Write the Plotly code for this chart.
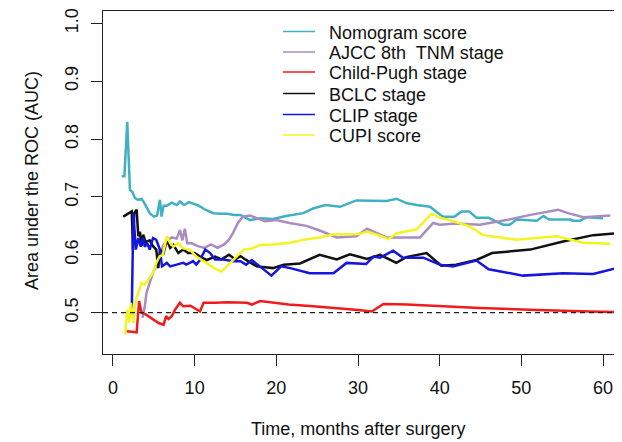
import plotly.graph_objects as go

# ---------------- data ----------------
nomo_x = [1.06, 1.4, 1.75, 2.08, 2.4, 2.7, 3.1, 3.5, 3.9, 4.5, 5.0, 5.4, 5.75, 5.95, 6.2, 6.6, 7.2, 7.8, 8.2, 8.7,
          9.3, 9.8, 10.5, 11.3, 12.3, 13.2, 14.0, 14.8, 15.6, 16.8, 18.0, 19.6, 21.2, 23.3, 24.5, 26.0, 27.8, 29.8,
          31.9, 33.5, 34.7, 36.0, 37.2, 38.8, 40.4, 41.8, 42.7, 43.6, 44.5, 46.0, 47.0, 47.8, 48.6, 49.4, 51.9,
          52.7, 53.4, 56.0, 56.3, 57.2, 58.0, 60.0]
nomo_y = [0.736, 0.736, 0.83, 0.712, 0.708, 0.698, 0.695, 0.697, 0.688, 0.672, 0.666, 0.668, 0.695, 0.666, 0.685,
          0.685, 0.69, 0.686, 0.692, 0.686, 0.691, 0.688, 0.685, 0.678, 0.672, 0.671, 0.671, 0.669, 0.669, 0.66,
          0.663, 0.662, 0.667, 0.672, 0.68, 0.686, 0.683, 0.694, 0.694, 0.693, 0.697, 0.689, 0.686, 0.683, 0.666,
          0.666, 0.675, 0.675, 0.664, 0.664, 0.657, 0.652, 0.652, 0.661, 0.659, 0.667, 0.661, 0.661, 0.659, 0.659,
          0.665, 0.663]

ajcc_x = [3.6, 3.9, 4.1, 4.5, 4.9, 5.3, 5.7, 6.2, 6.7, 7.2, 7.8, 8.2, 8.5, 8.8, 9.1, 9.6, 10.4, 11.2, 12.0, 12.8,
          13.6, 14.2, 14.7, 15.3, 15.9, 16.8, 17.6, 18.6, 20.0, 21.6, 23.7, 25.3, 27.4, 29.8, 31.1, 31.9, 33.5,
          35.9, 37.6, 39.2, 40.0, 42.0, 44.9, 48.2, 51.1, 54.5, 55.7, 57.6, 59.2, 60.9]
ajcc_y = [0.491, 0.511, 0.534, 0.551, 0.569, 0.58, 0.6, 0.617, 0.625, 0.63, 0.628, 0.643, 0.625, 0.645, 0.62,
          0.62, 0.615, 0.612, 0.618, 0.612, 0.618, 0.626, 0.638, 0.655, 0.666, 0.668, 0.663, 0.658, 0.66, 0.655,
          0.65, 0.642, 0.63, 0.632, 0.645, 0.64, 0.63, 0.63, 0.63, 0.655, 0.652, 0.654, 0.652, 0.66, 0.669, 0.678,
          0.672, 0.665, 0.666, 0.668]

cp_x = [1.67, 2.9, 3.2, 3.5, 4.0, 4.9, 5.6, 6.2, 6.5, 6.8, 7.2, 7.6, 8.2, 8.6, 9.5, 10.65, 11.1, 12.5, 14.0, 16.4,
        17.0, 18.0, 19.5, 21.5, 24.5, 27.7, 29.7, 31.7, 33.1, 36.0, 40.0, 42.0, 44.9, 51.0, 55.0, 58.3, 62.2]
cp_y = [0.468, 0.466, 0.52, 0.5, 0.497, 0.488, 0.482, 0.479, 0.494, 0.489, 0.494, 0.505, 0.517, 0.511, 0.512,
        0.502, 0.517, 0.517, 0.518, 0.517, 0.514, 0.52, 0.517, 0.514, 0.511, 0.508, 0.505, 0.502, 0.515, 0.514,
        0.511, 0.509, 0.508, 0.505, 0.503, 0.502, 0.501]

bclc_x = [1.26, 1.8, 2.3, 2.45, 2.6, 2.9, 3.1, 3.3, 3.5, 3.7, 4.0, 4.5, 4.9, 5.3, 5.55, 5.75, 6.2, 6.6, 7.0, 7.4,
          8.0, 8.6, 9.2, 10.0, 10.65, 11.5, 12.5, 13.3, 14.2, 15.0, 15.6, 16.2, 17.6, 19.6, 20.9, 22.9, 24.1,
          25.3, 27.4, 29.0, 31.1, 32.7, 34.7, 35.9, 38.4, 40.2, 42.0, 44.5, 46.4, 51.1, 55.1, 58.8, 62.2]
bclc_y = [0.666, 0.671, 0.675, 0.609, 0.672, 0.678, 0.632, 0.64, 0.615, 0.635, 0.622, 0.625, 0.615, 0.609, 0.577,
          0.609, 0.603, 0.626, 0.612, 0.617, 0.603, 0.609, 0.603, 0.603, 0.597, 0.591, 0.597, 0.592, 0.6, 0.592,
          0.598, 0.592, 0.58, 0.577, 0.583, 0.585, 0.593, 0.6, 0.592, 0.601, 0.593, 0.6, 0.586, 0.596, 0.603,
          0.581, 0.583, 0.591, 0.603, 0.609, 0.623, 0.634, 0.638]

clip_x = [2.0, 2.3, 2.5, 2.8, 3.1, 3.4, 3.7, 3.9, 4.2, 4.5, 4.9, 5.3, 5.75, 6.0, 6.6, 7.0, 7.8, 8.6, 9.0, 9.8,
          10.2, 10.65, 11.3, 11.9, 12.5, 13.5, 14.8, 15.6, 16.3, 17.0, 19.4, 20.6, 21.7, 24.1, 27.0, 28.6, 31.0,
          31.9, 32.7, 34.3, 35.5, 38.0, 40.0, 41.6, 44.5, 46.0, 50.2, 55.1, 58.8, 61.7]
clip_y = [0.5, 0.5, 0.672, 0.609, 0.629, 0.614, 0.629, 0.614, 0.62, 0.609, 0.629, 0.626, 0.609, 0.58, 0.586, 0.58,
          0.583, 0.586, 0.583, 0.589, 0.583, 0.591, 0.609, 0.603, 0.592, 0.592, 0.589, 0.589, 0.583, 0.591, 0.564,
          0.58, 0.577, 0.568, 0.568, 0.586, 0.584, 0.597, 0.595, 0.607, 0.595, 0.595, 0.583, 0.58, 0.59, 0.575,
          0.564, 0.568, 0.567, 0.577]

cupi_x = [1.47, 1.75, 2.0, 2.2, 2.5, 2.75, 3.1, 3.5, 3.9, 4.3, 4.6, 4.9, 5.3, 5.7, 6.1, 6.6, 7.0, 7.4, 8.0, 8.6,
          9.4, 10.2, 11.4, 12.6, 13.3, 14.6, 16.0, 17.0, 18.0, 19.6, 21.7, 23.7, 25.3, 26.9, 28.6, 30.2, 31.1,
          32.7, 33.7, 34.7, 37.2, 39.0, 40.0, 41.2, 43.7, 45.3, 49.4, 54.3, 57.6, 60.9]
cupi_y = [0.462, 0.505, 0.483, 0.517, 0.482, 0.52, 0.534, 0.551, 0.548, 0.557, 0.563, 0.569, 0.586, 0.597, 0.6,
          0.632, 0.62, 0.614, 0.62, 0.611, 0.609, 0.597, 0.586, 0.575, 0.571, 0.589, 0.609, 0.611, 0.617, 0.618,
          0.621, 0.627, 0.63, 0.635, 0.635, 0.636, 0.64, 0.633, 0.627, 0.637, 0.644, 0.671, 0.664, 0.66, 0.649,
          0.634, 0.626, 0.632, 0.621, 0.619]

series_names = ["Nomogram score", "AJCC 8th  TNM stage", "Child-Pugh stage", "BCLC stage", "CLIP stage", "CUPI score"]
series_x = [nomo_x, ajcc_x, cp_x, bclc_x, clip_x, cupi_x]
series_y = [nomo_y, ajcc_y, cp_y, bclc_y, clip_y, cupi_y]
colors = ["#3fb1c3", "#a98cc2", "#ee1c1c", "#111111", "#1515e0", "#f4f423"]

x_ticks = [0, 10, 20, 30, 40, 50, 60]
y_ticks = [0.5, 0.6, 0.7, 0.8, 0.9, 1.0]
reference_auc = 0.5

# ---------------- figure ----------------
# page body has an 8px margin, so the figure is drawn 8px smaller and
# every target pixel position is shifted by OFF
OFF = 8
W, H = 622 - OFF, 442 - OFF
ML, MR, MT, MB = 103 - OFF, 1, 11 - OFF, 88
PW, PH = W - ML - MR, H - MT - MB

fig = go.Figure()
for name, xs, ys, c in zip(series_names, series_x, series_y, colors):
    fig.add_trace(go.Scatter(x=xs, y=ys, mode="lines", name=name,
                             line=dict(color=c, width=2.5), showlegend=False))

fig.add_hline(y=reference_auc, line=dict(color="#222222", width=1.2, dash="5px,4px"))


def px2paper(px, py):
    """target-picture pixel -> paper coords"""
    return (px - OFF - ML) / PW, 1 - (py - OFF - MT) / PH


font_main = dict(family="Liberation Sans, Arial, sans-serif", size=18, color="#111111")

rows = [31.5, 52, 72, 93.5, 114.5, 135]
for name, c, ry in zip(series_names, colors, rows):
    x0, y0 = px2paper(283, ry)
    x1, _ = px2paper(315, ry)
    fig.add_shape(type="line", xref="paper", yref="paper", x0=x0, x1=x1, y0=y0, y1=y0,
                  line=dict(color=c, width=1.5))
    tx, ty = px2paper(327, ry + 1)
    fig.add_annotation(xref="paper", yref="paper", x=tx, y=ty, text=name, showarrow=False,
                       xanchor="left", yanchor="middle", font=font_main)

# axis titles
tx, ty = px2paper(358, 429)
fig.add_annotation(xref="paper", yref="paper", x=tx, y=ty,
                   text="Time, months after surgery", showarrow=False, xanchor="center", yanchor="middle",
                   font=font_main)
tx, ty = px2paper(32, 181)
fig.add_annotation(xref="paper", yref="paper", x=tx, y=ty,
                   text="Area under the ROC (AUC)", showarrow=False, xanchor="center", yanchor="middle",
                   textangle=-90, font=font_main)

tickfont = dict(family="Liberation Sans, Arial, sans-serif", size=18, color="#111111")
fig.update_layout(
    width=W, height=H,
    margin=dict(l=ML, r=MR, t=MT, b=MB),
    paper_bgcolor="white", plot_bgcolor="white",
    xaxis=dict(range=[-1.22, 62.2], tickvals=x_ticks, ticktext=[str(v) for v in x_ticks],
               showgrid=False, zeroline=False, showline=True, mirror=True, linecolor="#222222",
               linewidth=1.3, ticks="outside", ticklen=11, tickwidth=1.3, tickcolor="#222222",
               tickfont=tickfont, ticklabelstandoff=6),
    yaxis=dict(range=[0.4285, 1.0215], tickvals=y_ticks, ticktext=[f"{v:.1f}" for v in y_ticks],
               showgrid=False, zeroline=False, showline=True, mirror=True, linecolor="#222222",
               linewidth=1.3, ticks="outside", ticklen=11, tickwidth=1.3, tickcolor="#222222",
               tickfont=tickfont, tickangle=-90, ticklabelstandoff=6),
)

fig.write_html("out.html")
